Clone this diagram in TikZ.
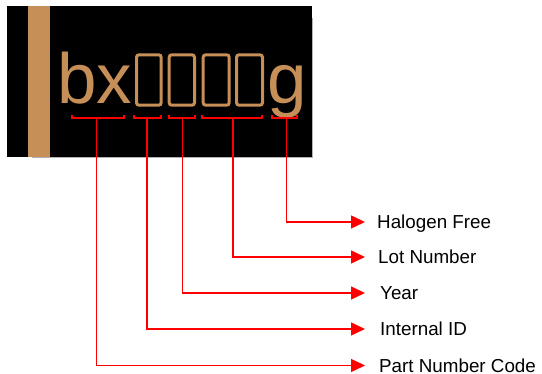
\documentclass[tikz,border=0pt]{standalone}
\usepackage{fontspec}
\setmainfont{Liberation Sans}
\usetikzlibrary{arrows.meta}
\definecolor{tan}{RGB}{198,143,88}
\definecolor{pred}{RGB}{255,0,0}
\tikzset{
  bracketline/.style={draw=pred, line width=1.3pt},
  conn/.style={draw=pred, line width=1.5pt, -{Triangle[length=14pt,width=13pt]}},
  lab/.style={anchor=west, inner sep=0pt, text height=13.5pt, text depth=0pt, font=\fontsize{18.8}{21}\selectfont},
  big/.style={anchor=base west, inner sep=0pt, text=tan, font=\fontsize{71}{80}\selectfont},
  tofu/.style={draw=tan, line width=3pt, rounded corners=2.5pt}
}
\begin{document}
\begin{tikzpicture}[x=1pt,y=-1pt]
\useasboundingbox (0,0) rectangle (542,374);
% chip body
\fill[black] (7,6) rectangle (312,157);
\draw[gray!60, line width=1pt] (312.5,18) -- (312.5,157.5) -- (32,157.5);
\fill[tan] (28,6) rectangle (50,157);
% marking
\node[big] (bx) at (57,104) {bx};
\draw[tofu] (136.5,54.8) rectangle (161.2,105.2);
\draw[tofu] (169.2,54.8) rectangle (194.5,105.2);
\draw[tofu] (203.2,54.8) rectangle (229.2,105.2);
\draw[tofu] (236.5,54.8) rectangle (262.5,105.2);
\node[big] (g) at (267,104) {g};
% brackets
\draw[bracketline] (72,115.5) -- (72,118) -- (124,118) -- (124,115.5);
\draw[bracketline] (134,115.5) -- (134,118) -- (161,118) -- (161,115.5);
\draw[bracketline] (169,115.5) -- (169,118) -- (195,118) -- (195,115.5);
\draw[bracketline] (202,115.5) -- (202,118) -- (262,118) -- (262,115.5);
\draw[bracketline] (272,115.5) -- (272,118) -- (297,118) -- (297,115.5);
\coordinate (s1) at (96.5,118);
\coordinate (s2) at (147,118);
\coordinate (s3) at (182.5,118);
\coordinate (s4) at (233,118);
\coordinate (s5) at (286.5,118);
% arrow tips
\coordinate (t1) at (365,222);
\coordinate (t2) at (365,257);
\coordinate (t3) at (365,293);
\coordinate (t4) at (365,329);
\coordinate (t5) at (365,365.5);
% labels
\node[lab] (hf) at (377,222) {Halogen Free};
\node[lab] (ln) at (378,257) {Lot Number};
\node[lab] (yr) at (380,293) {Year};
\node[lab] (id) at (380,329) {Internal ID};
\node[lab] (pn) at (379,365.5) {Part Number Code};
% connectors
\draw[conn] (s5) |- (t1);
\draw[conn] (s4) |- (t2);
\draw[conn] (s3) |- (t3);
\draw[conn] (s2) |- (t4);
\draw[conn] (s1) |- (t5);
\end{tikzpicture}
\end{document}
